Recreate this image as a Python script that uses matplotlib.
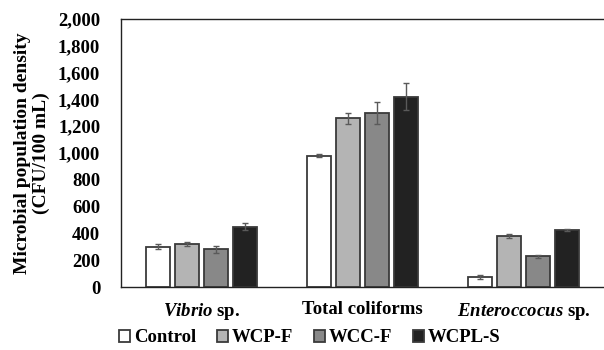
import numpy as np
import matplotlib.pyplot as plt

plt.rcParams['font.family'] = ['Liberation Serif', 'DejaVu Serif']
plt.rcParams['font.weight'] = 'bold'
plt.rcParams['axes.labelweight'] = 'bold'
plt.rcParams['mathtext.fontset'] = 'custom'
plt.rcParams['mathtext.it'] = 'Liberation Serif:italic:bold'
plt.rcParams['mathtext.rm'] = 'Liberation Serif:bold'

categories = ['$\\mathit{Vibrio}$ sp.', 'Total coliforms', '$\\mathit{Enteroccocus}$ sp.']
series = ['Control', 'WCP-F', 'WCC-F', 'WCPL-S']
values = [
    [300, 980, 75],
    [320, 1260, 380],
    [280, 1300, 230],
    [450, 1420, 425],
]
errors = [
    [20, 12, 15],
    [15, 42, 15],
    [25, 80, 12],
    [25, 100, 10],
]
colors = ['#ffffff', '#b4b4b4', '#888888', '#222222']

fig = plt.figure(figsize=(6.04, 3.5), dpi=100)
ax = fig.add_axes([121 / 604, 1 - 287 / 350, 483 / 604, 268 / 350])

x = np.arange(len(categories))
w = 0.15
step = 0.18
for i, name in enumerate(series):
    ax.bar(x + (i - 1.5) * step, values[i], w, color=colors[i], edgecolor='#3a3a3a',
           linewidth=1.3, label=name, yerr=errors[i],
           error_kw=dict(ecolor='#5a5a5a', elinewidth=1, capsize=2.2, capthick=1))

ax.set_xlim(-0.5, 2.5)
ax.set_ylim(0, 2000)
ax.set_yticks(np.arange(0, 2001, 200))
ax.set_yticklabels(['{:,}'.format(v) for v in range(0, 2001, 200)], fontsize=13.5)
ax.set_xticks(x)
ax.set_xticklabels(categories, fontsize=13.5)
ax.tick_params(axis='y', length=0, pad=15)
ax.tick_params(axis='x', length=0, pad=10)
ax.spines['right'].set_visible(False)
for s in ['top', 'left', 'bottom']:
    ax.spines[s].set_color('#222222')
    ax.spines[s].set_linewidth(1)

ax.set_ylabel('Microbial population density\n(CFU/100 mL)', fontsize=14, labelpad=6,
              linespacing=1.1)

fig.legend(loc='center', bbox_to_anchor=(0.513, 1 - 338 / 350), ncol=4, frameon=False,
           fontsize=13.5, handlelength=0.6, handleheight=0.6, handletextpad=0.2,
           columnspacing=1.1)

fig.savefig('out.png', dpi=100)
